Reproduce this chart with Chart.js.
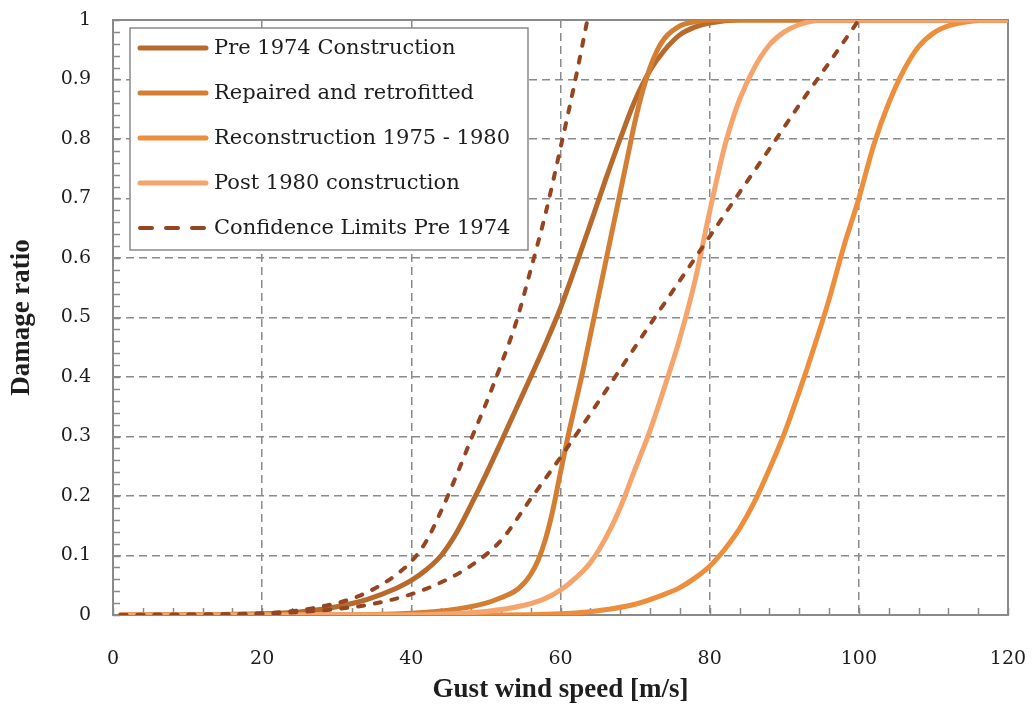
<!DOCTYPE html>
<html>
<head>
<meta charset="utf-8">
<script src="https://cdn.jsdelivr.net/npm/chart.js@4.4.1/dist/chart.umd.min.js"></script>
<style>
  html, body { margin: 0; padding: 0; background: #ffffff; }
  #wrap { width: 1035px; height: 706px; position: relative; }
</style>
</head>
<body>
<div id="wrap"><canvas id="chart"></canvas></div>
<script>
// Fragility curves: damage ratio against gust wind speed (m/s)
const pre1974Speed = [1, 20, 25, 30, 34, 38, 40, 42, 44, 46, 48, 50, 52, 54, 56, 58, 60, 62, 64, 66, 68, 70, 72, 74, 76, 78, 80, 84, 120];
const pre1974Ratio = [0, 0.002, 0.005, 0.014, 0.026, 0.045, 0.058, 0.076, 0.1, 0.137, 0.185, 0.236, 0.29, 0.345, 0.4, 0.456, 0.516, 0.585, 0.657, 0.73, 0.8, 0.865, 0.915, 0.95, 0.975, 0.988, 0.995, 1, 1];

const repairedSpeed = [1, 30, 40, 45, 50, 52, 54, 55, 56, 57, 58, 59, 60, 61, 62, 63, 64, 65, 66, 67, 68, 69, 70, 71, 72, 73, 74, 76, 78, 80, 120];
const repairedRatio = [0, 0, 0.003, 0.008, 0.02, 0.029, 0.041, 0.052, 0.068, 0.092, 0.128, 0.178, 0.24, 0.3, 0.355, 0.41, 0.47, 0.53, 0.59, 0.65, 0.71, 0.77, 0.83, 0.88, 0.92, 0.95, 0.97, 0.99, 0.997, 1, 1];

const reconSpeed = [1, 50, 60, 65, 70, 74, 76, 78, 80, 82, 84, 86, 88, 90, 92, 94, 96, 98, 100, 102, 104, 106, 108, 110, 112, 115, 118, 120];
const reconRatio = [0, 0, 0.002, 0.007, 0.018, 0.035, 0.046, 0.062, 0.082, 0.11, 0.145, 0.19, 0.245, 0.305, 0.375, 0.45, 0.53, 0.62, 0.7, 0.79, 0.86, 0.915, 0.955, 0.978, 0.99, 0.998, 1, 1];

const post1980Speed = [1, 40, 45, 50, 55, 58, 60, 62, 64, 66, 68, 70, 72, 74, 76, 78, 80, 82, 83, 84, 86, 88, 90, 92, 95, 120];
const post1980Ratio = [0, 0, 0.002, 0.006, 0.016, 0.028, 0.042, 0.062, 0.088, 0.128, 0.18, 0.245, 0.31, 0.385, 0.465, 0.56, 0.678, 0.787, 0.83, 0.866, 0.92, 0.958, 0.98, 0.992, 1, 1];

const upperLimitSpeed = [1, 20, 25, 30, 33, 36, 38, 40, 42, 44, 46, 48, 50, 52, 54, 56, 58, 60, 62, 63.6];
const upperLimitRatio = [0, 0.003, 0.008, 0.02, 0.032, 0.051, 0.068, 0.09, 0.124, 0.175, 0.233, 0.295, 0.355, 0.42, 0.49, 0.58, 0.675, 0.785, 0.9, 1];

const lowerLimitSpeed = [1, 20, 25, 30, 35, 40, 44, 48, 52, 56, 60, 64, 68, 72, 76, 80, 84, 88, 92, 96, 100];
const lowerLimitRatio = [0, 0.002, 0.005, 0.01, 0.019, 0.035, 0.055, 0.083, 0.125, 0.195, 0.265, 0.338, 0.413, 0.488, 0.562, 0.636, 0.71, 0.783, 0.857, 0.928, 1];

const speedTicks = [0, 20, 40, 60, 80, 100, 120];
const ratioTicks = [0, 0.1, 0.2, 0.3, 0.4, 0.5, 0.6, 0.7, 0.8, 0.9, 1];

const toPoints = (xs, ys) => xs.map((x, i) => ({ x: x, y: ys[i] }));

const GRID = '#8a8a8a';
const TEXT = '#1e1e1e';

// Plot frame plus short inward minor ticks (every 4 m/s and every 0.02)
const framePlugin = {
  id: 'frame',
  beforeDatasetsDraw(chart) {
    const { ctx, chartArea: a, scales } = chart;
    ctx.save();
    ctx.strokeStyle = GRID;
    ctx.lineWidth = 1.5;
    ctx.beginPath();
    for (let v = 0; v <= 120; v += 4) {
      const px = Math.round(scales.x.getPixelForValue(v)) + 0.5;
      ctx.moveTo(px, a.bottom);
      ctx.lineTo(px, a.bottom - 7);
    }
    for (let k = 0; k <= 50; k++) {
      const py = Math.round(scales.y.getPixelForValue(k * 0.02)) + 0.5;
      ctx.moveTo(a.left, py);
      ctx.lineTo(a.left + 7, py);
    }
    ctx.stroke();
    ctx.lineWidth = 2;
    ctx.strokeRect(a.left, a.top, a.right - a.left, a.bottom - a.top);
    ctx.restore();
  }
};

// Boxed legend inside the upper-left corner of the plot
const boxLegendPlugin = {
  id: 'boxLegend',
  afterDatasetsDraw(chart) {
    const { ctx, chartArea: a } = chart;
    const x0 = a.left + 17, y0 = a.top + 8, w = 398, h = 222;
    ctx.save();
    ctx.fillStyle = '#ffffff';
    ctx.fillRect(x0, y0, w, h);
    ctx.strokeStyle = GRID;
    ctx.lineWidth = 1.5;
    ctx.strokeRect(x0, y0, w, h);
    const items = chart.data.datasets.filter(d => !d.legendSkip);
    items.forEach((d, i) => {
      const y = y0 + 20 + i * 45;
      ctx.strokeStyle = d.borderColor;
      ctx.lineCap = 'round';
      if (d.borderDash && d.borderDash.length) {
        ctx.lineWidth = 4;
        ctx.setLineDash([12, 14]);
      } else {
        ctx.lineWidth = 5;
        ctx.setLineDash([]);
      }
      ctx.beginPath();
      ctx.moveTo(x0 + 10, y);
      ctx.lineTo(x0 + 76, y);
      ctx.stroke();
      ctx.setLineDash([]);
      ctx.fillStyle = TEXT;
      ctx.font = '21px "DejaVu Serif"';
      ctx.textBaseline = 'middle';
      ctx.textAlign = 'left';
      ctx.fillText(d.label, x0 + 84, y + 1);
    });
    ctx.restore();
  }
};

const lineStyle = (color, width) => ({
  borderColor: color,
  backgroundColor: color,
  borderWidth: width,
  pointRadius: 0,
  fill: false,
  cubicInterpolationMode: 'monotone',
  borderCapStyle: 'round',
  borderJoinStyle: 'round'
});

new Chart(document.getElementById('chart'), {
  type: 'line',
  data: {
    datasets: [
      Object.assign({ label: 'Pre 1974 Construction', data: toPoints(pre1974Speed, pre1974Ratio), order: 6 }, lineStyle('#b76a2c', 5)),
      Object.assign({ label: 'Repaired and retrofitted', data: toPoints(repairedSpeed, repairedRatio), order: 5 }, lineStyle('#d47e33', 5)),
      Object.assign({ label: 'Reconstruction 1975 - 1980', data: toPoints(reconSpeed, reconRatio), order: 4 }, lineStyle('#ec8e3c', 5)),
      Object.assign({ label: 'Post 1980 construction', data: toPoints(post1980Speed, post1980Ratio), order: 3 }, lineStyle('#f5a46c', 5)),
      Object.assign({ label: 'Confidence Limits Pre 1974', data: toPoints(upperLimitSpeed, upperLimitRatio), order: 2, borderDash: [6, 11] }, lineStyle('#964521', 4)),
      Object.assign({ label: 'Confidence Limits Pre 1974', data: toPoints(lowerLimitSpeed, lowerLimitRatio), order: 1, borderDash: [6, 11], legendSkip: true }, lineStyle('#964521', 4))
    ]
  },
  options: {
    responsive: true,
    maintainAspectRatio: false,
    devicePixelRatio: 1,
    animation: false,
    layout: { padding: { top: 20, right: 27, left: 0, bottom: 0 } },
    plugins: {
      legend: { display: false },
      tooltip: { enabled: false }
    },
    scales: {
      x: {
        type: 'linear',
        min: 0,
        max: 120,
        afterBuildTicks: s => { s.ticks = speedTicks.map(v => ({ value: v })); },
        afterFit: s => { s.height = 91; s.paddingLeft = 0; s.paddingRight = 0; },
        grid: { color: GRID, lineWidth: 1.5, drawTicks: false },
        border: { display: false, dash: [8, 5] },
        ticks: {
          color: TEXT,
          font: { family: 'DejaVu Serif', size: 19 },
          padding: 33,
          maxRotation: 0,
          autoSkip: false
        },
        title: {
          display: true,
          text: 'Gust wind speed [m/s]',
          color: TEXT,
          font: { family: 'Liberation Serif', size: 27, weight: 'bold' },
          padding: { top: 0, bottom: 0 }
        }
      },
      y: {
        type: 'linear',
        min: 0,
        max: 1,
        afterBuildTicks: s => { s.ticks = ratioTicks.map(v => ({ value: v })); },
        afterFit: s => { s.width = 113; s.paddingTop = 0; s.paddingBottom = 0; },
        grid: { color: GRID, lineWidth: 1.5, drawTicks: false },
        border: { display: false, dash: [8, 5] },
        ticks: {
          color: TEXT,
          font: { family: 'DejaVu Serif', size: 19 },
          padding: 22,
          autoSkip: false,
          callback: v => String(Math.round(v * 10) / 10)
        },
        title: {
          display: true,
          text: 'Damage ratio',
          color: TEXT,
          font: { family: 'Liberation Serif', size: 27, weight: 'bold' },
          padding: { top: 6, bottom: 0 }
        }
      }
    }
  },
  plugins: [framePlugin, boxLegendPlugin]
});
</script>
</body>
</html>
